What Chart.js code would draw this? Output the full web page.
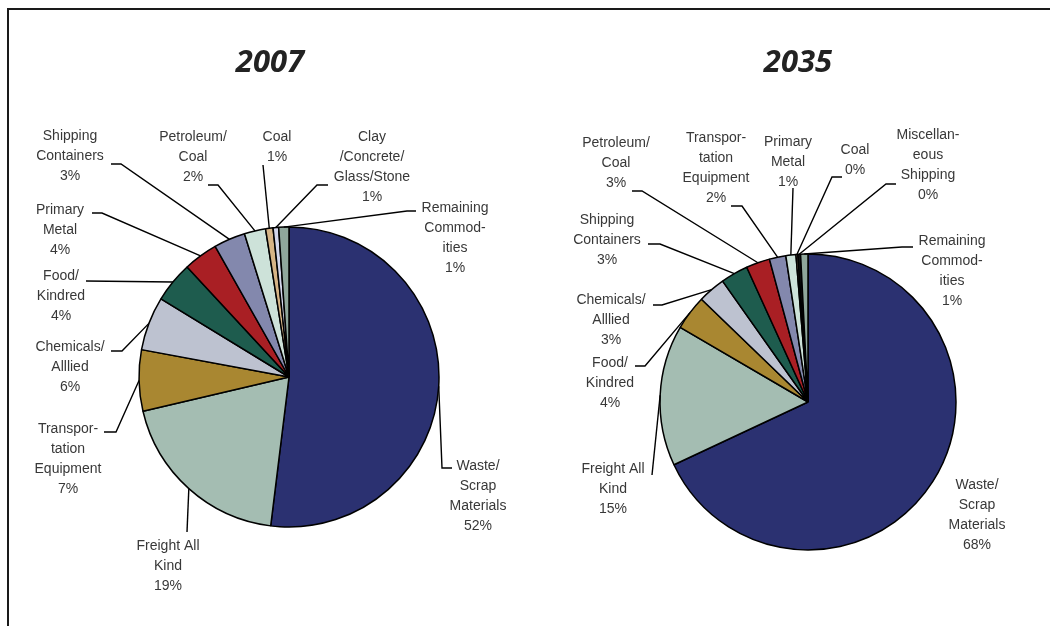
<!DOCTYPE html>
<html>
<head>
<meta charset="utf-8">
<script src="https://cdn.jsdelivr.net/npm/chart.js@4.4.1/dist/chart.umd.min.js"></script>
<style>
html, body { margin: 0; padding: 0; background: #fff; overflow: hidden; }
body { width: 1050px; height: 626px; position: relative; }
#frame { position: absolute; left: 7px; top: 8px; width: 1100px; height: 700px; border: 2px solid #1a1a1a; }
canvas { position: absolute; top: 0; }
#c2007 { left: 0; }
#c2035 { left: 525px; }
</style>
</head>
<body>
<div id="frame"></div>
<canvas id="c2007" width="525" height="626"></canvas>
<canvas id="c2035" width="525" height="626"></canvas>
<script>
// ---- data (percent shares, clockwise from 12 o'clock) ----
const categories2007 = [
    ["Waste/", "Scrap", "Materials"], ["Freight All", "Kind"], ["Transpor-", "tation", "Equipment"],
    ["Chemicals/", "Alllied"], ["Food/", "Kindred"], ["Primary", "Metal"], ["Shipping", "Containers"],
    ["Petroleum/", "Coal"], ["Coal"], ["Clay", "/Concrete/", "Glass/Stone"], ["Remaining", "Commod-", "ities"]
];
const values2007 = [52.0, 19.4, 6.6, 5.8, 4.4, 3.7, 3.4, 2.3, 0.8, 0.6, 1.1];

const categories2035 = [
    ["Waste/", "Scrap", "Materials"], ["Freight All", "Kind"], ["Food/", "Kindred"], ["Chemicals/", "Alllied"],
    ["Shipping", "Containers"], ["Petroleum/", "Coal"], ["Transpor-", "tation", "Equipment"], ["Primary", "Metal"],
    ["Coal"], ["Miscellan-", "eous", "Shipping"], ["Remaining", "Commod-", "ities"]
];
const values2035 = [68.1, 15.4, 3.8, 3.0, 3.0, 2.6, 1.8, 1.1, 0.2, 0.3, 0.8];

const sliceColors = ["#2b3171", "#a4bdb2", "#a98731", "#bdc2d0", "#1e5c4e", "#a91f24",
                     "#8388ad", "#cde2d9", "#d6b486", "#d3d6eb", "#8fa79b"];
const sliceColors2035 = sliceColors.slice(0, 9).concat(["#111111", "#8fa79b"]);

// ---- label placement (page px): text centre x, first line y, leader start, optional elbow ----
const labels2007 = [
    { x: 478, y: 466, from: [452, 468], elbow: [442, 468] },
    { x: 168, y: 546, from: [187, 532] },
    { x: 68, y: 429, from: [104, 432], elbow: [116, 432] },
    { x: 70, y: 347, from: [111, 351], elbow: [122, 351] },
    { x: 61, y: 276, from: [86, 281] },
    { x: 60, y: 210, from: [92, 213], elbow: [102, 213] },
    { x: 70, y: 136, from: [111, 164], elbow: [121, 164] },
    { x: 193, y: 137, from: [208, 185], elbow: [218, 185] },
    { x: 277, y: 137, from: [263, 165] },
    { x: 372, y: 137, from: [328, 185], elbow: [317, 185] },
    { x: 455, y: 208, from: [416, 211], elbow: [407, 211] }
];
const labels2035 = [
    { x: 977, y: 485 },
    { x: 613, y: 469, from: [652, 475] },
    { x: 610, y: 363, from: [635, 366], elbow: [645, 366] },
    { x: 611, y: 300, from: [653, 305], elbow: [662, 305] },
    { x: 607, y: 220, from: [648, 244], elbow: [660, 244] },
    { x: 616, y: 143, from: [632, 191], elbow: [642, 191] },
    { x: 716, y: 138, from: [731, 206], elbow: [742, 206] },
    { x: 788, y: 142, from: [793, 188] },
    { x: 855, y: 150, from: [842, 177], elbow: [832, 177] },
    { x: 928, y: 135, from: [896, 184], elbow: [886, 184] },
    { x: 952, y: 241, from: [913, 247], elbow: [902, 247] }
];

const BORDER = 1.5;

const pieLabels = {
    id: 'pieLabels',
    afterDatasetsDraw(chart, args, opts) {
        const ctx = chart.ctx;
        const meta = chart.getDatasetMeta(0);
        const vals = chart.data.datasets[0].data;
        const total = vals.reduce((a, b) => a + b, 0);
        const dx = opts.offsetX;

        ctx.save();
        ctx.textAlign = 'center';
        ctx.textBaseline = 'middle';
        ctx.fillStyle = '#222';
        ctx.font = 'italic bold 31px "Open Sans", sans-serif';
        ctx.fillText(opts.title, opts.titleX - dx, opts.titleY);

        ctx.strokeStyle = '#000';
        ctx.lineWidth = 1.4;
        meta.data.forEach((arc, i) => {
            const lay = opts.layout[i];
            const mid = (arc.startAngle + arc.endAngle) / 2;
            const ex = arc.x + Math.cos(mid) * arc.outerRadius;
            const ey = arc.y + Math.sin(mid) * arc.outerRadius;
            if (lay.from) {
                ctx.beginPath();
                ctx.moveTo(lay.from[0] - dx, lay.from[1]);
                if (lay.elbow) ctx.lineTo(lay.elbow[0] - dx, lay.elbow[1]);
                ctx.lineTo(ex, ey);
                ctx.stroke();
            }
            const lines = [].concat(chart.data.labels[i], Math.round(vals[i] / total * 100) + '%');
            ctx.font = '14px "Liberation Sans", Arial, sans-serif';
            ctx.fillStyle = '#383838';
            lines.forEach((t, k) => ctx.fillText(t, lay.x - dx, lay.y + k * 20));
        });
        ctx.restore();
    }
};

function padFor(cx, cy, r, offsetX, w, h) {
    const size = 2 * r + BORDER;
    const left = cx - offsetX - r - BORDER / 2;
    const top = cy - r - BORDER / 2;
    return { left: left, top: top, right: w - left - size, bottom: h - top - size };
}

function makePie(id, cats, vals, colors, layout, title, titleX, centre, radius, offsetX) {
    new Chart(document.getElementById(id), {
        type: 'pie',
        data: {
            labels: cats,
            datasets: [{
                data: vals,
                backgroundColor: colors,
                borderColor: '#000',
                borderWidth: BORDER
            }]
        },
        options: {
            responsive: false,
            animation: false,
            devicePixelRatio: 1,
            layout: { padding: padFor(centre[0], centre[1], radius, offsetX, 525, 626) },
            plugins: {
                legend: { display: false },
                tooltip: { enabled: false },
                pieLabels: { layout: layout, offsetX: offsetX, title: title, titleX: titleX, titleY: 63 }
            }
        },
        plugins: [pieLabels]
    });
}

makePie('c2007', categories2007, values2007, sliceColors, labels2007, '2007', 270, [289, 377], 150, 0);
makePie('c2035', categories2035, values2035, sliceColors2035, labels2035, '2035', 798, [808, 402], 148, 525);
</script>
</body>
</html>
